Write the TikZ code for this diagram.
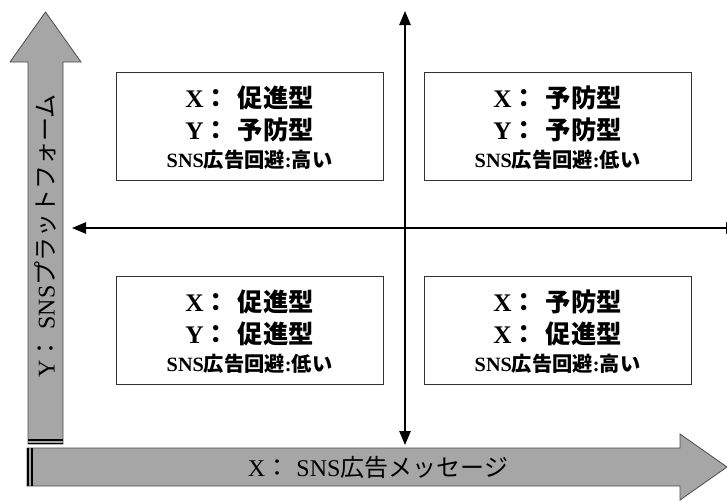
\documentclass[tikz,border=0pt]{standalone}
\usepackage{fontspec}
\setmainfont{Liberation Serif}
\newfontfamily\jp{Noto Sans CJK JP}
\usetikzlibrary{arrows.meta}
\definecolor{arrowgray}{HTML}{A6A6A6}
\newcommand\qlineA[2]{{\fontsize{19}{19}\selectfont\bfseries #1\jp ：\hspace{0.35em}#2}}
\newcommand\qlineB[1]{{\fontsize{15.2}{15.2}\selectfont\bfseries SNS{\jp 広告回避}:{\jp #1}}}
\tikzset{
  bigarrow/.style={fill=arrowgray, draw=black!70, line width=0.6pt},
  endbar/.style={draw=black, line width=1.2pt},
  quadbox/.style={draw=black!80, line width=0.7pt, fill=white, minimum width=200.25pt, minimum height=81pt, inner sep=0pt},
  qtext/.style={inner sep=0pt, anchor=center},
  axisline/.style={line width=1.1pt, {Triangle[length=10.5pt,width=8.5pt]}-{Triangle[length=10.5pt,width=8.5pt]}},
  axlabel/.style={inner sep=0pt, font=\fontsize{18}{18}\selectfont}
}
\begin{document}
\begin{tikzpicture}[x=0.75pt,y=-0.75pt]
\useasboundingbox (0,0) rectangle (727,500);
% big gray axis arrows
\path[bigarrow] (28,444) -- (28,62) -- (10,62) -- (45.5,12) -- (81,62) -- (63,62) -- (63,444) -- cycle;
\draw[endbar] (28,440) -- (63,440);
\draw[endbar] (28,443.5) -- (63,443.5);
\path[bigarrow] (27,448) -- (680,448) -- (680,434) -- (727,467) -- (680,500) -- (680,486) -- (27,486) -- cycle;
\draw[endbar] (27.8,448) -- (27.8,486);
\draw[endbar] (32,448) -- (32,486);
\node[axlabel, rotate=90] (ylab) at (45.5,236) {Y{\jp ：}\hspace{0.3em}SNS{\jp プラットフォーム}};
\node[axlabel] (xlab) at (378,467) {X{\jp ：}\hspace{0.3em}SNS{\jp 広告メッセージ}};
% center axes
\coordinate (vtop) at (405,11);
\coordinate (vbot) at (405,445);
\coordinate (hl) at (72,228);
\coordinate (hr) at (740,228);
\draw[axisline] (vbot) -- (vtop);
\draw[axisline] (hl) -- (hr);
% quadrant boxes
\node[quadbox] (b1) at (249.5,126) {};
\node[quadbox] (b2) at (557.5,126) {};
\node[quadbox] (b3) at (249.5,330) {};
\node[quadbox] (b4) at (557.5,330) {};
\node[qtext] (b1a) at ([yshift=21pt]b1.center) {\qlineA{X}{促進型}};
\node[qtext] (b1b) at ([yshift=-3pt]b1.center) {\qlineA{Y}{予防型}};
\node[qtext] (b1c) at ([yshift=-25.5pt]b1.center) {\qlineB{高い}};
\node[qtext] (b2a) at ([yshift=21pt]b2.center) {\qlineA{X}{予防型}};
\node[qtext] (b2b) at ([yshift=-3pt]b2.center) {\qlineA{Y}{予防型}};
\node[qtext] (b2c) at ([yshift=-25.5pt]b2.center) {\qlineB{低い}};
\node[qtext] (b3a) at ([yshift=21pt]b3.center) {\qlineA{X}{促進型}};
\node[qtext] (b3b) at ([yshift=-3pt]b3.center) {\qlineA{Y}{促進型}};
\node[qtext] (b3c) at ([yshift=-25.5pt]b3.center) {\qlineB{低い}};
\node[qtext] (b4a) at ([yshift=21pt]b4.center) {\qlineA{X}{予防型}};
\node[qtext] (b4b) at ([yshift=-3pt]b4.center) {\qlineA{X}{促進型}};
\node[qtext] (b4c) at ([yshift=-25.5pt]b4.center) {\qlineB{高い}};
\end{tikzpicture}
\end{document}
